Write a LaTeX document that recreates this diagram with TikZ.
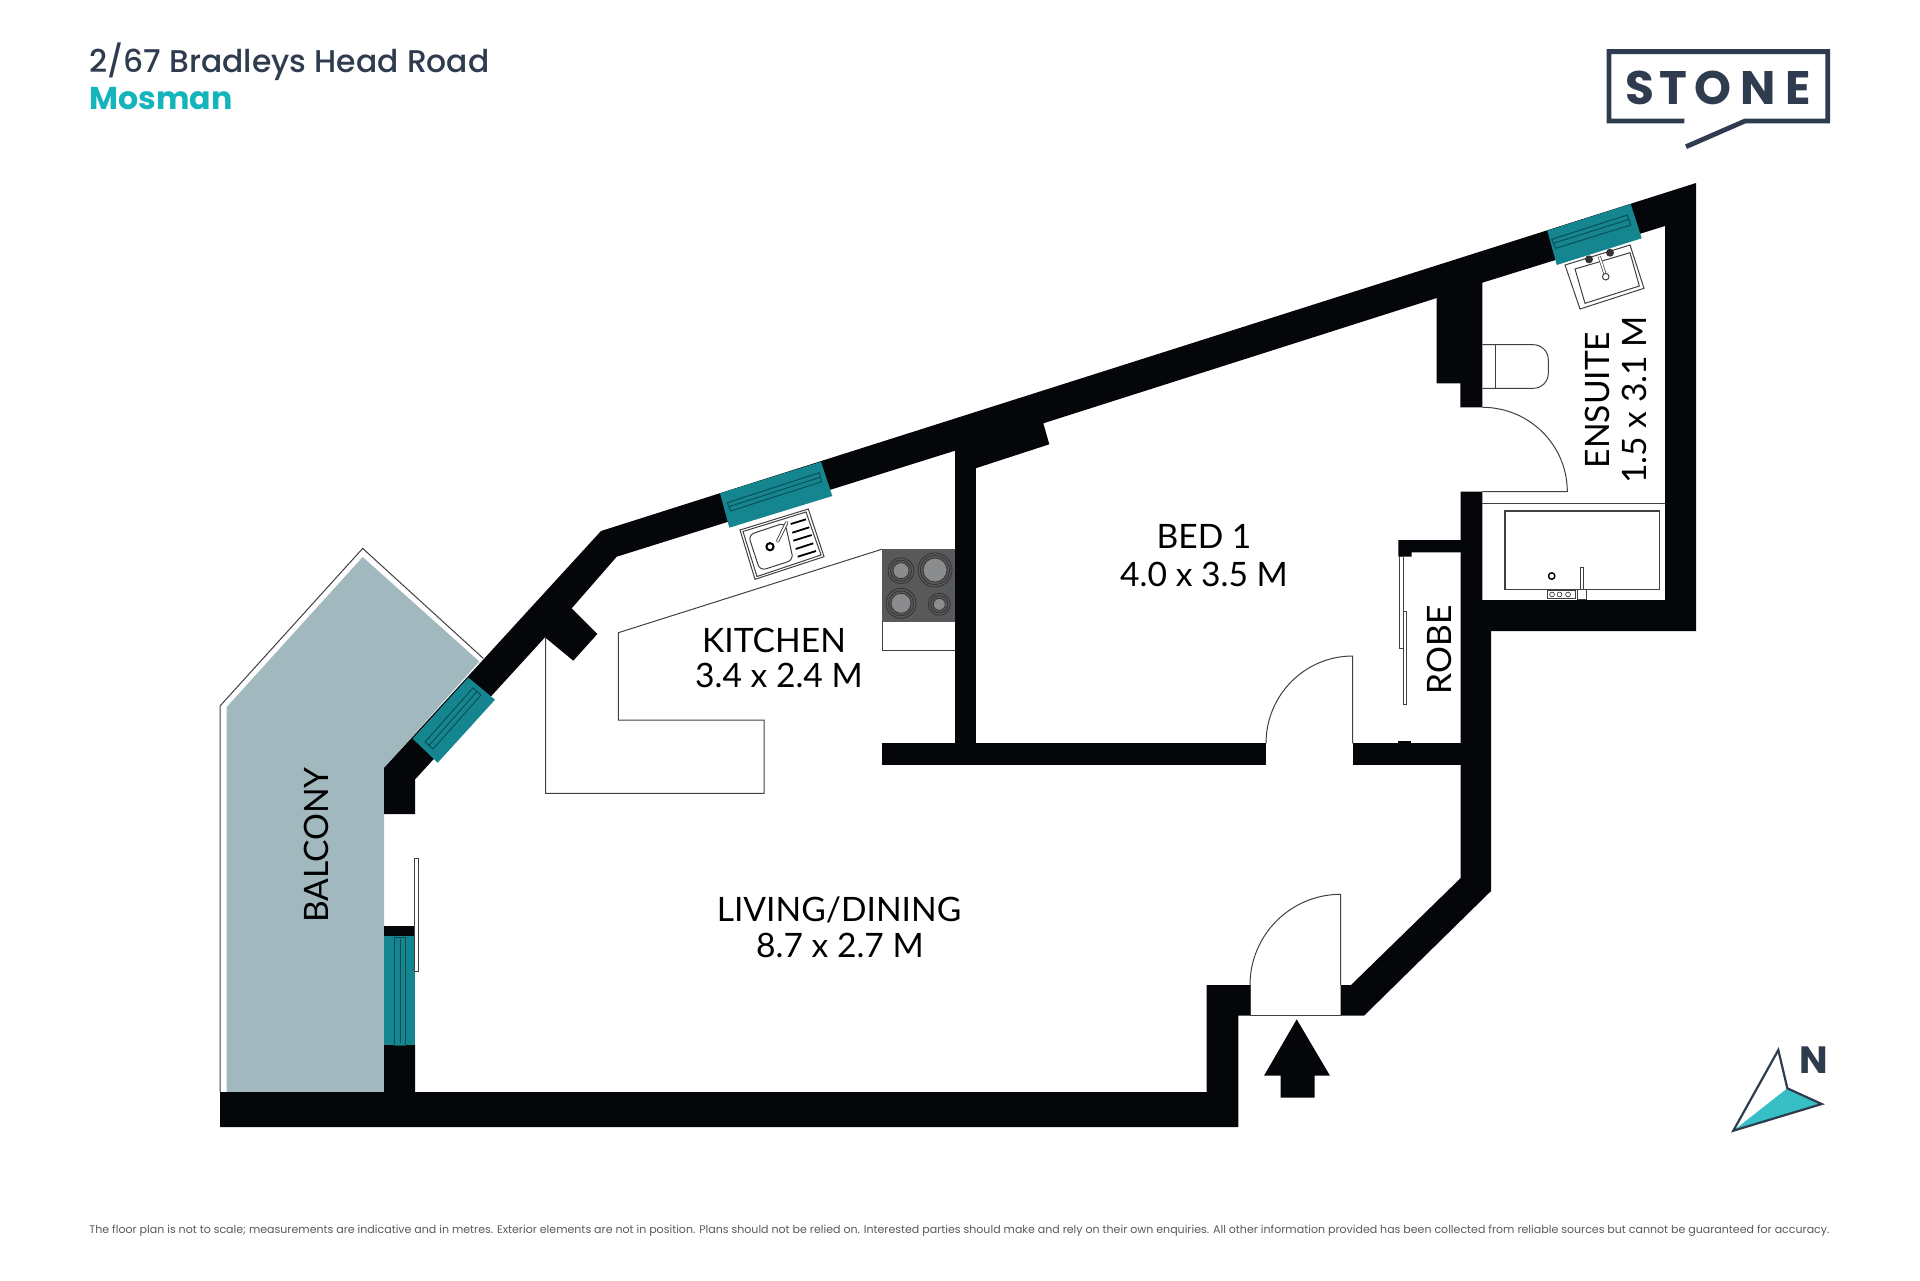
\documentclass[tikz,border=0pt]{standalone}
\usepackage{fontspec}
\setmainfont{Lato}
\newfontfamily\headfont{Poppins}
\newfontfamily\titlefont{Poppins Medium}
\definecolor{wallblack}{HTML}{04060A}
\definecolor{glassteal}{HTML}{15858F}
\definecolor{glassline}{HTML}{0B4F57}
\definecolor{balconyblue}{HTML}{A2B8BF}
\definecolor{stoneblue}{HTML}{2F3B4E}
\definecolor{stoneteal}{HTML}{14B4BC}
\definecolor{hobgrey}{HTML}{58595B}
\definecolor{burnergrey}{HTML}{8A8C8E}
\tikzset{
  wall/.style={fill=wallblack, draw=none},
  glass/.style={fill=glassteal, draw=none},
  glassdetail/.style={draw=glassline, line width=0.5pt},
  fitout/.style={draw=black!75, line width=0.5pt},
  fineline/.style={draw=black!75, line width=0.35pt},
  roomlabel/.style={font=\fontsize{16.8}{20}\selectfont, text=black, inner sep=0pt},
}
\begin{document}
\begin{tikzpicture}[x=0.5pt, y=-0.5pt]
    \useasboundingbox (0,0) rectangle (1920,1280);

    % balcony
    \draw[fitout, fill=white] (220,1092)--(220,706)--(362.7,548.4)--(483.3,658.4);
    \fill[balconyblue] (226.7,1092)--(226.7,707)--(362.7,557)--(479.3,661.5)--(384,768)--(384,1092)--cycle;

    % walls
    \fill[wall] (1696,183)--(1696,631)--(1491,631)--(1491,891)--(1364,1015.7)--(1340.7,1015.7)--(1340.7,985)
      --(1351,985)--(1460.7,878)--(1460.7,491.7)--(1482.3,491.7)--(1482.3,600)--(1665,600)--(1665,226)
      --(1482.3,282.7)--(1482.3,407.3)--(1460.3,407.3)--(1460.3,383.3)--(1436.7,383.3)--(1436.7,298)
      --(1043.3,423.3)--(1049.3,444.3)--(955,475)--(955,450.7)--(616.7,556.7)--(571.7,608.3)--(597.3,634)
      --(573.3,660.7)--(545,637.3)--(415,779.5)--(415,814)--(384,814)--(384,768)--(601,531)--cycle;
    \fill[wall] (220,1092)--(384,1092)--(384,1045)--(415,1045)--(415,1092)--(1206.7,1092)--(1206.7,985)
      --(1250,985)--(1250,1015.7)--(1238.3,1015.7)--(1238.3,1127)--(220,1127)--cycle;
    \fill[wall] (881.7,743.3) rectangle (1266,765);
    \fill[wall] (955,455) rectangle (976,744);
    \fill[wall] (1352.7,743.3) rectangle (1461,765);
    \fill[wall] (1398.3,740.7) rectangle (1411,744);
    \fill[wall] (1398.3,540)--(1461,540)--(1461,552.3)--(1411.7,552.3)--(1411.7,556.7)--(1398.3,556.7)--cycle;
    \fill[wall] (384,925.8) rectangle (415,937);

    % windows
    \fill[glass] (720,493.3)--(821,461.7)--(832.3,496)--(729.3,527.7)--cycle;
    \draw[glassdetail] (727.3,502.7)--(819.3,472.7)--(821.7,481.7)--(730.7,511)--cycle;
    \draw[glassdetail] (729,506.7)--(820,477.3);
    \fill[glass] (1547.3,230.7)--(1630.7,204)--(1641.7,238.3)--(1556.7,265)--cycle;
    \draw[glassdetail] (1551.7,239.3)--(1627.3,215)--(1630.7,225)--(1555.7,248.3)--cycle;
    \draw[glassdetail] (1553.3,243.3)--(1629.3,219.3);
    \fill[glass] (468.3,677.5)--(495,699.7)--(437.7,762.7)--(412.7,738.6)--cycle;
    \draw[glassdetail] (473,688)--(481,695)--(433,749)--(425,742)--cycle;
    \draw[glassdetail] (477,691.5)--(429,745.5);
    \fill[glass] (384,936) rectangle (415,1045.4);
    \draw[glassdetail] (394.3,937) rectangle (405.7,1045);
    \draw[glassdetail] (400,939)--(400,1043);
    \draw[fineline, fill=white] (414.3,858) rectangle (418.3,971);

    % doors
    \draw[fitout] (1266,743.3) arc (180:270:86.7 and 87.3)--(1352.7,743.3);
    \draw[fitout] (1250,985) arc (180:270:90.7 and 90.7)--(1340.7,985);
    \draw[fitout] (1482.3,407.3) arc (270:360:85 and 84.4)--(1482.3,491.7);
    \draw[fitout] (1250,985)--(1250,1015.7)--(1340.7,1015.7);

    % entry arrow
    \fill[wall] (1296.7,1019.3)--(1330,1075.7)--(1314.7,1075.7)--(1314.7,1097.7)--(1280.7,1097.7)--(1280.7,1075.7)--(1264,1075.7)--cycle;

    % robe
    \draw[fineline, fill=white] (1399.3,556.7) rectangle (1403,648);
    \draw[fineline, fill=white] (1403,611.7) rectangle (1406.7,704);

    % kitchen
    \draw[fitout] (881.7,549.3)--(618.3,632.7)--(618.3,720)--(764,720)--(764,793.3)--(545.7,793.3)--(545.7,637.3);
    \draw[fitout] (882.3,622)--(882.3,650)--(955,650);
    \fill[hobgrey] (882.3,549.3) rectangle (955,622.3);
    \foreach \cx/\cy/\rad in {901/570.7/13, 935/570/17, 901/603.3/15, 939.3/604.3/11}{
      \draw[black!80, line width=0.4pt, fill=hobgrey] (\cx,\cy) circle (\rad);
      \draw[black!80, line width=0.4pt] (\cx,\cy) circle (\rad-2.5);
      \draw[black!80, line width=0.4pt, fill=burnergrey] (\cx,\cy) circle (\rad-5);
    }
    \draw[fitout] (740,530)--(808.3,509)--(824,556.7)--(755,579.3)--cycle;
    \draw[fitout] (743,531.5)--(806,512)--(821,555)--(757,576.5)--cycle;
    \draw[fitout, rounded corners=3pt] (748.3,535)--(785,522.7)--(793.3,560)--(760,570.7)--cycle;
    \draw[black, line width=1pt, fill=white] (770,546.7) circle (3.6);
    \draw[black!75, line width=1.7pt, line cap=round] (777.7,541)--(786.7,522.7);
    \draw[white, line width=0.8pt, line cap=round] (777.7,541)--(786.7,522.7);
    \foreach \ax/\ay/\bx/\by in {790.7/524/806/519.3, 792.3/532.7/809.3/527.3, 793.3/540.7/811.7/535, 795.7/549/813.3/543.3, 797.7/556.7/816/551}{
      \draw[black, line width=0.9pt] (\ax,\ay)--(\bx,\by);
    }

    % ensuite
    \draw[fitout] (1482.3,503.7)--(1665,503.7);
    \draw[fitout, line width=0.8pt] (1505,511) rectangle (1659.3,589.3);
    \draw[black, line width=0.7pt] (1551.7,576) circle (3.2);
    \draw[fineline, fill=white] (1580,567.7) rectangle (1583.7,589);
    \draw[fineline] (1577.3,589.3) rectangle (1586.7,599.3);
    \draw[fineline] (1547.3,590.7) rectangle (1575,598.3);
    \foreach \cx in {1552,1559.5,1568}{
      \draw[fineline] (\cx,594.5) circle (2.4);
    }
    \draw[fitout, rounded corners=7.5pt] (1482.3,344.7)--(1548.3,344.7)--(1548.3,388.3)--(1482.3,388.3);
    \draw[fitout] (1495,344.7)--(1495,388.3);
    \draw[fitout] (1565,265)--(1630,245)--(1644,288.3)--(1580,309)--cycle;
    \draw[fitout] (1575,269)--(1630,252.7)--(1639.3,286)--(1585,303.3)--cycle;
    \fill[black!80] (1589,259.3) circle (4);
    \fill[black!80] (1610,252.7) circle (4);
    \draw[black!75, line width=1.5pt] (1599.3,256.7)--(1605.7,276);
    \draw[white, line width=0.8pt] (1599.3,256.7)--(1605.7,276);
    \draw[fitout, fill=white] (1605.7,276.7) circle (3.3);

    % room names
    \node[roomlabel] (bedname) at (1204,536) {BED 1};
    \node[roomlabel] (bedsize) at (1204,574) {4.0 x 3.5 M};
    \node[roomlabel] (kitchenname) at (774,640) {KITCHEN};
    \node[roomlabel] (kitchensize) at (779,675) {3.4 x 2.4 M};
    \node[roomlabel] (livingname) at (839,910) {LIVING/DINING};
    \node[roomlabel] (livingsize) at (840,945) {8.7 x 2.7 M};
    \node[roomlabel, rotate=90] (balconyname) at (316,845) {BALCONY};
    \node[roomlabel, rotate=90] (robename) at (1439,650) {ROBE};
    \node[roomlabel, rotate=90] (ensuitename) at (1597,400) {ENSUITE};
    \node[roomlabel, rotate=90] (ensuitesize) at (1634,400) {1.5 x 3.1 M};

    % title
    \node[anchor=west, inner sep=0pt, text=stoneblue, font=\titlefont\fontsize{15.7}{18}\selectfont] (address) at (89,62) {2/67 Bradleys Head Road};
    \node[anchor=west, inner sep=0pt, text=stoneteal, font=\headfont\bfseries\fontsize{15.8}{18}\selectfont] (suburb) at (89,99) {Mosman};

    % logo
    \draw[stoneblue, line width=2.4pt] (1684.3,121)--(1609,121)--(1609,51.6)--(1827.7,51.6)--(1827.7,121)--(1745,121)--(1686,146.7);
    \foreach \letter/\lx in {S/1640, T/1673, O/1713, N/1758, E/1798}{
      \node[inner sep=0pt, text=stoneblue, font=\headfont\bfseries\fontsize{23.5}{26}\selectfont] (logo\letter) at (\lx,87.5) {\letter};
    }

    % north arrow
    \fill[stoneteal!85!white] (1733.3,1130.7)--(1787.3,1088.3)--(1821.7,1104)--cycle;
    \draw[stoneblue, line width=1.1pt, line join=miter] (1733.3,1130.7)--(1778.3,1050)--(1787.3,1088.3)--(1821.7,1104)--cycle;
    \node[inner sep=0pt, text=stoneblue, font=\headfont\bfseries\fontsize{19}{22}\selectfont] (north) at (1814,1060) {N};

    % disclaimer
    \node[anchor=west, inner sep=0pt, text=black!65, font=\headfont\fontsize{5.51}{7}\selectfont] (disclaimer) at (89,1231) {The floor plan is not to scale; measurements are indicative and in metres. Exterior elements are not in position. Plans should not be relied on. Interested parties should make and rely on their own enquiries. All other information provided has been collected from reliable sources but cannot be guaranteed for accuracy.};
\end{tikzpicture}
\end{document}
